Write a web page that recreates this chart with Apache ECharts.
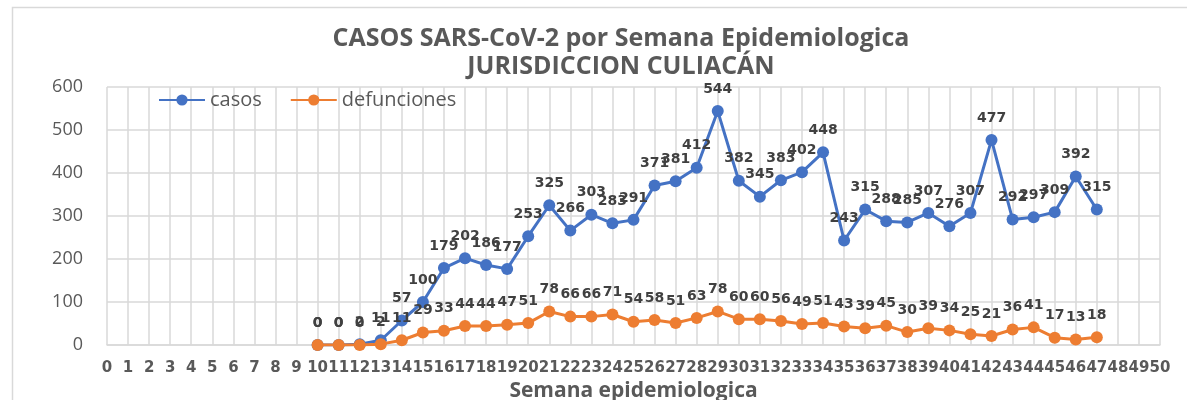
<!DOCTYPE html>
<html>
<head>
<meta charset="utf-8">
<script src="https://cdn.jsdelivr.net/npm/echarts@6/dist/echarts.min.js"></script>
<style>
  html, body { margin: 0; padding: 0; background: #fff; }
  #chart { width: 1187px; height: 400px; }
</style>
</head>
<body>
<div id="chart"></div>
<script>
// Epidemiological weeks with reported data
const weeks = [10, 11, 12, 13, 14, 15, 16, 17, 18, 19, 20, 21, 22, 23, 24, 25, 26, 27, 28, 29,
               30, 31, 32, 33, 34, 35, 36, 37, 38, 39, 40, 41, 42, 43, 44, 45, 46, 47];
// Confirmed cases per week
const casos = [0, 0, 2, 11, 57, 100, 179, 202, 186, 177, 253, 325, 266, 303, 283, 291, 371, 381, 412, 544,
               382, 345, 383, 402, 448, 243, 315, 288, 285, 307, 276, 307, 477, 292, 297, 309, 392, 315];
// Deaths per week
const defunciones = [0, 0, 0, 2, 11, 29, 33, 44, 44, 47, 51, 78, 66, 66, 71, 54, 58, 51, 63, 78,
                     60, 60, 56, 49, 51, 43, 39, 45, 30, 39, 34, 25, 21, 36, 41, 17, 13, 18];
// Axis ranges
const weekMin = 0, weekMax = 50;
const yMin = 0, yMax = 600, yStep = 100;

const pairs = (vals) => weeks.map((w, i) => [w, vals[i]]);

const gray = '#595959';
const gridColor = '#d9d9d9';

const chart = echarts.init(document.getElementById('chart'));

const labelStyle = {
  show: true,
  position: 'top',
  distance: 9,
  color: '#404040',
  fontFamily: 'DejaVu Sans',
  fontWeight: 'bold',
  fontSize: 14
};

chart.setOption({
  animation: false,
  backgroundColor: '#fff',
  title: {
    text: 'CASOS SARS-CoV-2 por Semana Epidemiologica\nJURISDICCION CULIACÁN',
    left: 616,
    top: 20,
    textAlign: 'center',
    textStyle: {
      color: gray,
      fontFamily: 'Open Sans',
      fontWeight: 'bold',
      fontSize: 25,
      lineHeight: 28
    }
  },
  legend: {
    left: 153,
    top: 85,
    itemWidth: 46,
    itemHeight: 14,
    itemGap: 28,
    textStyle: { color: gray, fontFamily: 'Open Sans', fontSize: 20 },
    data: ['casos', 'defunciones']
  },
  graphic: [{
    type: 'polyline',
    silent: true,
    shape: { points: [[12.5, 410], [12.5, 7.5], [1190, 7.5]] },
    style: { stroke: gridColor, lineWidth: 1.5, fill: null }
  }],
  grid: { left: 107, right: 27, top: 87, bottom: 55, containLabel: false, outerBoundsMode: 'none' },
  xAxis: {
    type: 'value',
    min: weekMin,
    max: weekMax,
    interval: 1,
    name: 'Semana epidemiologica',
    nameLocation: 'middle',
    nameGap: 33,
    nameTextStyle: { color: gray, fontFamily: 'Open Sans', fontWeight: 'bold', fontSize: 21 },
    axisLine: { show: true, lineStyle: { color: gridColor, width: 1.5 } },
    axisTick: { show: false },
    axisLabel: {
      color: gray, fontFamily: 'DejaVu Sans', fontWeight: 'bold', fontSize: 15, margin: 16,
      showMinLabel: true, showMaxLabel: true
    },
    splitLine: { show: true, lineStyle: { color: gridColor, width: 1.5 } }
  },
  yAxis: {
    type: 'value',
    min: yMin,
    max: yMax,
    interval: yStep,
    axisLine: { show: false },
    axisTick: { show: false },
    axisLabel: { color: gray, fontFamily: 'Open Sans', fontSize: 18, margin: 24 },
    splitLine: { show: true, lineStyle: { color: gridColor, width: 1.5 } }
  },
  series: [
    {
      name: 'casos',
      type: 'line',
      data: pairs(casos),
      color: '#4472C4',
      lineStyle: { width: 3 },
      symbol: 'circle',
      symbolSize: 12,
      label: labelStyle,
      z: 2
    },
    {
      name: 'defunciones',
      type: 'line',
      data: pairs(defunciones),
      color: '#ED7D31',
      lineStyle: { width: 3 },
      symbol: 'circle',
      symbolSize: 12,
      label: labelStyle,
      z: 3
    }
  ]
});
</script>
</body>
</html>
